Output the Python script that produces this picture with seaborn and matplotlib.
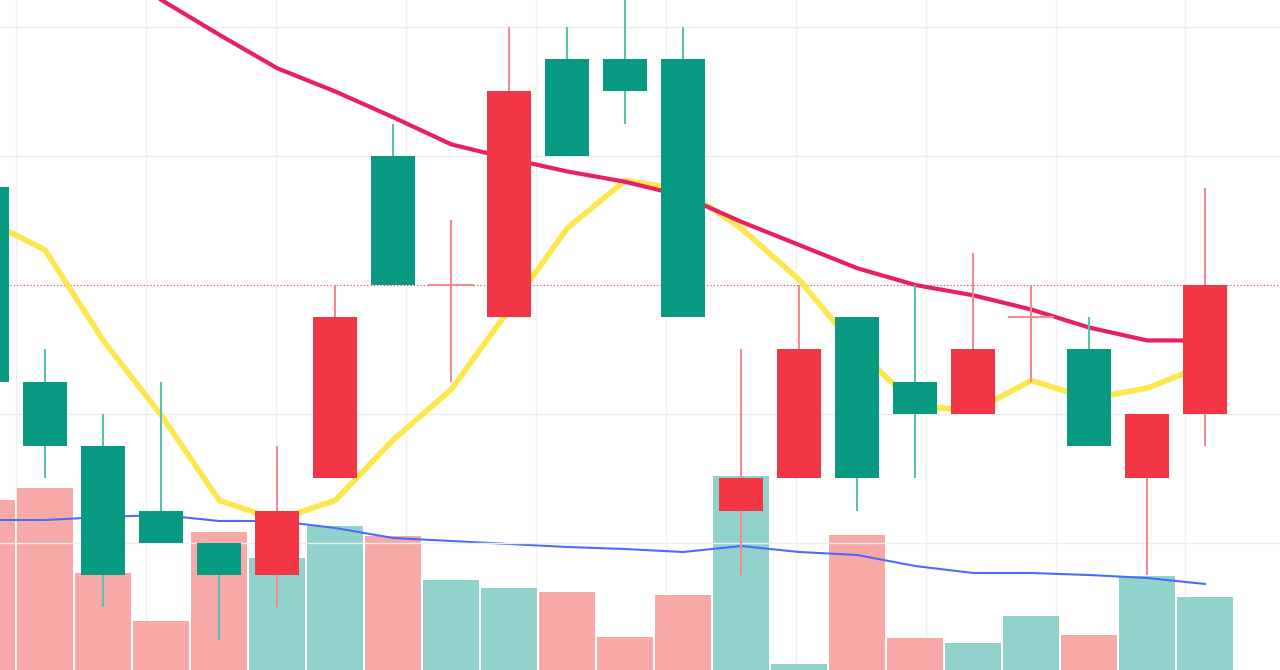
import numpy as np
import matplotlib
matplotlib.use("Agg")
import matplotlib.pyplot as plt
import seaborn as sns

sns.set_theme(style="white")

# candle data (price units)
opens  = [22.5, 17.5, 7.5, 10, 7.5, 12.5, 27.5, 30, 30, 45, 40, 45, 27.5, 15, 25, 15, 20, 25, 27.5, 17.5, 20, 30]
closes = [37.6, 22.5, 17.5, 12.5, 10, 7.5, 15, 40, 30, 27.5, 47.5, 47.5, 47.5, 12.5, 15, 27.5, 22.5, 20, 27.5, 25, 15, 20]
highs  = [40, 25, 20, 22.5, 10, 17.5, 30, 42.5, 35, 50, 50, 52.5, 50, 25, 30, 27.5, 30, 32.5, 30, 27.5, 20, 37.5]
lows   = [20, 15, 5, 10, 2.5, 5, 15, 30, 22.5, 27.5, 40, 42.5, 27.5, 7.5, 15, 12.5, 15, 20, 22.5, 17.5, 7.5, 17.5]

fast_ma = [35.0, 32.7, 25.7, 19.9, 13.3, 11.8, 13.3, 18.0, 21.9, 28.1, 34.4, 38.1, 37.4, 34.4, 30.4, 25.0, 20.7, 20.2, 22.6, 21.2, 22.0, 23.8]
slow_idx = list(range(2, 22))
slow_ma = [55.0, 52.1, 49.4, 46.8, 45.0, 43.0, 40.9, 39.8, 38.8, 38.0, 36.9, 34.9, 33.1, 31.3, 30.0, 29.2, 28.1, 26.7, 25.7, 25.7]

volume = [170, 182, 97, 49, 138, 112, 144, 134, 90, 82, 78, 33, 75, 194, 6, 135, 32, 27, 54, 35, 94, 73]
vol_up = [0, 0, 0, 0, 0, 1, 1, 0, 1, 1, 0, 0, 0, 1, 1, 0, 0, 1, 1, 0, 1, 1]
vol_ma = [150, 150, 153, 155, 149, 149, 142, 132, 129, 126, 123, 121, 118, 124, 118, 115, 104, 97, 97, 95, 92, 86]
last_price = 30

GREEN, RED = "#089981", "#f23645"
idx = np.arange(len(opens))
XLIM = (0.22, 22.29)

fig = plt.figure(figsize=(12.8, 6.7), dpi=100)
ax = fig.add_axes([0, 0, 1, 1])
ax.set_facecolor("white")

# volume panel (underneath)
ax.bar(idx, volume, width=0.97, linewidth=0,
       color=["#92d2cc" if u else "#f7a9a7" for u in vol_up], zorder=1)
sns.lineplot(x=idx, y=vol_ma, ax=ax, color="#4a6cf7", linewidth=1.5, zorder=2)
ax.set_ylim(0, 670)
ax.set_xlim(*XLIM)
for xv in np.arange(0.5, 22.5, 2.24):
    ax.axvline(xv, color="#f0f0f0", linewidth=1, zorder=0)

# price panel on top
ap = ax.twinx()
ap.patch.set_visible(False)
ap.set_ylim(0.155, 52.09)
for yv in [10, 20, 40, 50]:
    ap.axhline(yv, color="#eeeeee", linewidth=1, zorder=0)
ap.axhline(last_price, color=RED, linestyle=(0, (1, 2)), linewidth=0.8, zorder=1)

sns.lineplot(x=idx, y=fast_ma, ax=ap, color="#fde74c", linewidth=4, zorder=2)
sns.lineplot(x=slow_idx, y=slow_ma, ax=ap, color="#e91e63", linewidth=3, zorder=2)

for i in idx:
    o, c, h, l = opens[i], closes[i], highs[i], lows[i]
    col = GREEN if c > o else RED
    wick = "#5cc0b0" if col == GREEN else "#f28a92"
    ap.vlines(i, l, h, color=wick, linewidth=1.5, zorder=3)
    if o == c:
        ap.hlines(o, i - 0.4, i + 0.4, color=wick, linewidth=1.5, zorder=3)
    else:
        ap.bar(i, abs(c - o), bottom=min(o, c), width=0.76, color=col, linewidth=0, zorder=4)

for a in (ax, ap):
    a.set_xticks([]); a.set_yticks([])
    a.set_xlabel(""); a.set_ylabel("")
    for s in a.spines.values():
        s.set_visible(False)
ap.set_xlim(*XLIM)

fig.savefig("out.png", dpi=100)
